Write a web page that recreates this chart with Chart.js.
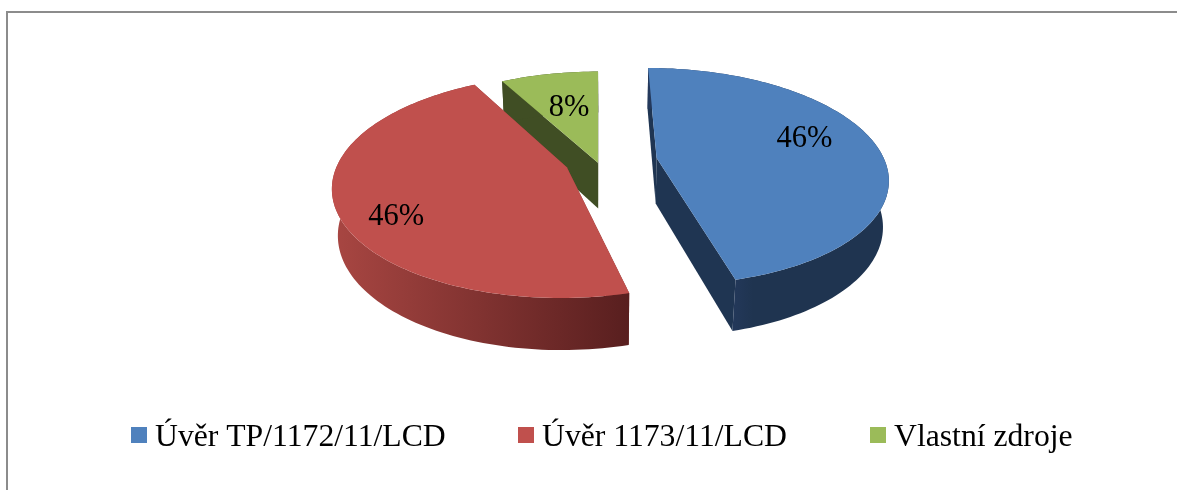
<!DOCTYPE html>
<html lang="cs">
<head>
<meta charset="utf-8">
<title>Zdroje financování</title>
<script src="https://cdn.jsdelivr.net/npm/chart.js@4"></script>
<style>
  html, body { margin: 0; padding: 0; background: #fff; overflow: hidden; }
  canvas { display: block; }
</style>
</head>
<body>
<canvas id="chart" width="1177" height="490"></canvas>
<script>
// Funding sources and their shares, in percent
const categories = ['Úvěr TP/1172/11/LCD', 'Úvěr 1173/11/LCD', 'Vlastní zdroje'];
const shares = [46, 46, 8];
const topColors = ['#4f81bd', '#c0504d', '#9bbb59'];

// Camera used to tilt the pie: unit disc coordinates to canvas pixels
const CAM = { cx: 610.5, cy: 160.6, rx: 228, ry: 106, depth: 46.7, persp: 0.17, perspZ: 0.021, vanish: -12 };

function project(x, y, z) {
  const w = 1 + CAM.persp * y + CAM.perspZ * z;
  return {
    x: CAM.cx + (CAM.rx * x + CAM.vanish * CAM.persp * y) / w,
    y: CAM.cy - (CAM.ry * y - CAM.depth * z) / w
  };
}

// Slice explosion: distance in disc radii, with an optional fixed direction
const PULL = [{ r: 0.205 }, { r: 0.2, deg: 252 }, { r: 0.0585, deg: 250 }];
// Label placement inside each slice: radius and angular shift from the bisector
const LABEL_AT = [{ r: 0.71, turn: -9 }, { r: 0.795, turn: -10 }, { r: 0.6, turn: 1 }];
const LABEL_DROP = 1.5;
// Legend swatch left edges and shared metrics
const LEGEND = { x: [131, 518, 870], y: 427, box: 16, gap: 8, baseline: 446 };
const LEGEND_FONT = '31.7px "Liberation Serif", "Times New Roman", serif';
const LABEL_FONT = '30.5px "Liberation Serif", "Times New Roman", serif';

function sliceGeometry(arc, i) {
  const a0 = arc.startAngle + Math.PI / 2;
  const a1 = arc.endAngle + Math.PI / 2;
  const mid = (a0 + a1) / 2;
  const dir = PULL[i].deg !== undefined ? PULL[i].deg * Math.PI / 180 : mid;
  return { a0, a1, mid, ox: PULL[i].r * Math.sin(dir), oy: PULL[i].r * Math.cos(dir) };
}

function tracePolyline(ctx, pts, start) {
  pts.forEach((p, k) => (k === 0 && start ? ctx.moveTo(p.x, p.y) : ctx.lineTo(p.x, p.y)));
}

function rimPoints(g, z) {
  const pts = [];
  const n = Math.max(8, Math.round((g.a1 - g.a0) * 40));
  for (let k = 0; k <= n; k++) {
    const t = g.a0 + (g.a1 - g.a0) * k / n;
    pts.push(project(g.ox + Math.sin(t), g.oy + Math.cos(t), z));
  }
  return pts;
}

function drawWall(ctx, g, angle, fill) {
  const edge = z => [project(g.ox, g.oy, z), project(g.ox + Math.sin(angle), g.oy + Math.cos(angle), z)];
  const [a, b] = edge(0);
  const [c, d] = edge(1);
  ctx.beginPath();
  ctx.moveTo(a.x, a.y); ctx.lineTo(b.x, b.y); ctx.lineTo(d.x, d.y); ctx.lineTo(c.x, c.y);
  ctx.closePath();
  ctx.fillStyle = fill;
  ctx.fill();
}

function drawSlice(ctx, arc, i) {
  const g = sliceGeometry(arc, i);
  const top = rimPoints(g, 0);
  const bottom = rimPoints(g, 1);

  // Cut faces
  const wallFill = ['#1f3552', '#8a3a37', '#404e24'][i];
  drawWall(ctx, g, g.a0, wallFill);
  drawWall(ctx, g, g.a1, wallFill);

  // Outer rim, shaded from left to right
  let rimFill = wallFill;
  if (i === 0) {
    rimFill = ctx.createLinearGradient(729, 0, 888, 0);
    rimFill.addColorStop(0, '#24395c');
    rimFill.addColorStop(0.15, '#1f3450');
    rimFill.addColorStop(1, '#1f3450');
  } else if (i === 1) {
    rimFill = ctx.createLinearGradient(334, 0, 627, 0);
    rimFill.addColorStop(0, '#a84642');
    rimFill.addColorStop(1, '#591f1f');
  }
  ctx.beginPath();
  tracePolyline(ctx, top, true);
  tracePolyline(ctx, bottom.slice().reverse(), false);
  ctx.closePath();
  ctx.fillStyle = rimFill;
  ctx.fill();

  // Upper face
  const apex = project(g.ox, g.oy, 0);
  ctx.beginPath();
  ctx.moveTo(apex.x, apex.y);
  tracePolyline(ctx, top, false);
  ctx.closePath();
  ctx.fillStyle = arc.options.backgroundColor;
  ctx.fill();
}

const pie3d = {
  id: 'pie3d',
  beforeDatasetDraw(chart, args) {
    const ctx = chart.ctx;
    const arcs = args.meta.data;
    ctx.save();
    // Painter's order: the small slice lies behind the other two
    [2, 0, 1].forEach(i => drawSlice(ctx, arcs[i], i));
    ctx.restore();
    return false;
  },
  afterDatasetsDraw(chart) {
    const ctx = chart.ctx;
    const arcs = chart.getDatasetMeta(0).data;
    const data = chart.data.datasets[0].data;
    const total = data.reduce((s, v) => s + v, 0);
    ctx.save();
    ctx.fillStyle = '#000';

    // Percentage labels
    ctx.font = LABEL_FONT;
    ctx.textAlign = 'center';
    ctx.textBaseline = 'middle';
    arcs.forEach((arc, i) => {
      const g = sliceGeometry(arc, i);
      const t = g.mid + LABEL_AT[i].turn * Math.PI / 180;
      const p = project(g.ox + LABEL_AT[i].r * Math.sin(t), g.oy + LABEL_AT[i].r * Math.cos(t), 0);
      ctx.fillText(Math.round(data[i] / total * 100) + '%', p.x, p.y + LABEL_DROP);
    });

    // Legend row
    ctx.font = LEGEND_FONT;
    ctx.textAlign = 'left';
    ctx.textBaseline = 'alphabetic';
    chart.data.labels.forEach((label, i) => {
      const x = LEGEND.x[i];
      ctx.fillStyle = chart.data.datasets[0].backgroundColor[i];
      ctx.fillRect(x, LEGEND.y, LEGEND.box, LEGEND.box);
      ctx.fillStyle = '#000';
      ctx.fillText(label, x + LEGEND.box + LEGEND.gap, LEGEND.baseline);
    });

    // Frame: top and left edges
    ctx.fillStyle = '#8c8c8c';
    ctx.fillRect(6, 11, chart.width - 6, 2);
    ctx.fillRect(6, 11, 2, chart.height - 11);
    ctx.restore();
  }
};

new Chart(document.getElementById('chart'), {
  type: 'pie',
  data: {
    labels: categories,
    datasets: [{ data: shares, backgroundColor: topColors, borderWidth: 0 }]
  },
  options: {
    responsive: false,
    animation: false,
    events: [],
    plugins: { legend: { display: false }, tooltip: { enabled: false } }
  },
  plugins: [pie3d]
});
</script>
</body>
</html>
